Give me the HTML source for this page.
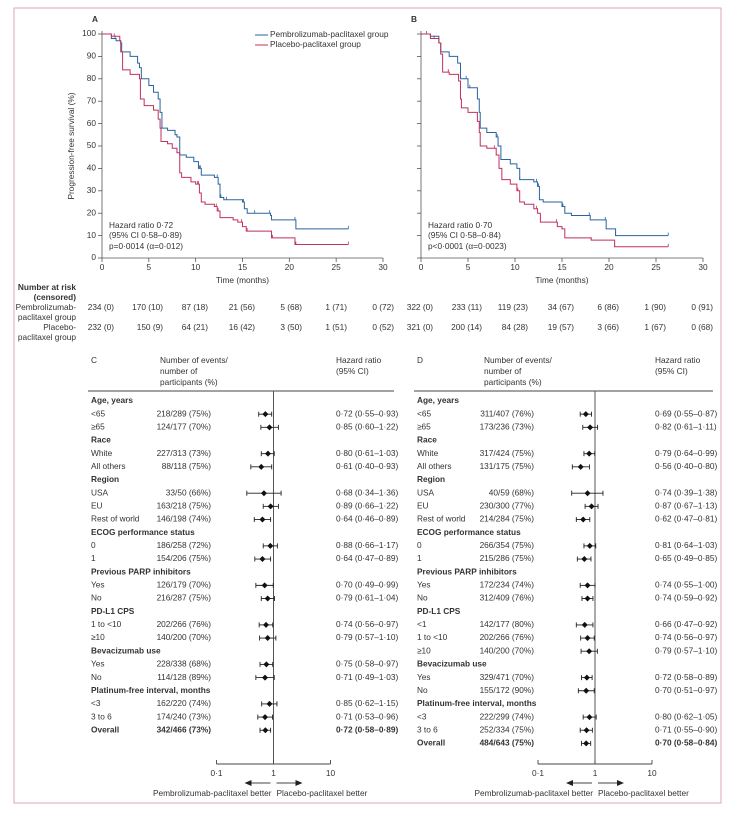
<!DOCTYPE html>
<html><head><meta charset="utf-8"><style>
html,body{margin:0;padding:0;background:#fff;}
svg{display:block;font-family:"Liberation Sans",sans-serif;}
text{fill:#333;font-size:8.3px;}
</style></head><body>
<svg id="fig" width="735" height="818" viewBox="0 0 735 818" xmlns="http://www.w3.org/2000/svg"></svg>
<script>
// ---------- KM data (months, survival %) ----------
const aPembroT=[0,1,1.5,2,2.1,3,3.8,4,4.2,5,5.5,6,6.2,6.4,7,7.8,8,8.3,9,9.8,10.3,10.6,12,12.4,12.6,13,15,15.2,15.5,18,18.1,20.7,26.3];
const aPembroS=[100,98,97,96,92,90,87,85,80,77,74,71,65,58,57,55,54,46,45,43,40,37,36,33,27,26,25,22,20,19,17,13,13];
const aPlaceboT=[0,1,1.9,2,2.2,3,4,4.1,4.5,5.5,6,6.2,6.3,7,7.5,8,8.3,8.5,9.5,10,10.4,10.6,11,12,12.3,12.6,14,14.5,15,15.4,18.1,20.6,26.3];
const aPlaceboS=[100,99,97,92,84,82,80,71,68,66,62,58,52,51,49,47,38,36,34,33,29,25,24,23,21,18,17,16,14,12,9,6,6];
const bPembroT=[0,1,1.9,2.1,3,3.9,4.2,5,6,6.2,6.3,7,8,8.2,8.5,9.5,10.2,10.5,12,12.4,12.6,13,15,15.3,16,18,19.7,20.7,26.3];
const bPembroS=[100,99,96,92,90,87,80,76,71,65,58,56,54,50,44,42,40,35,34,32,26,25,23,20,19,17,13,10,10];
const bPlaceboT=[0,1,1.9,2.1,2.3,3,4,4.2,4.3,5,6,6.2,6.3,7,8,8.3,8.6,9.5,10.2,10.5,11,12,12.4,12.7,14.5,15,15.3,18.1,20.6,26.3];
const bPlaceboS=[100,98,96,91,83,82,79,71,67,65,61,56,50,49,46,40,35,33,30,25,24,22,20,16,14,13,9,8,5,5];
const aPembroCens=[1.4,8,10.4,10.5,12.3,12.7,13.3,15.1,16.3,17.9,20.6,26.3];
const aPlaceboCens=[1.3,8,10.2,10.3,12.2,12.4,14.9,15.5,18.2,20.7,26.3];
const bPembroCens=[0.6,4.8,5.2,8.1,10.5,12.3,12.5,15,15.1,17.9,19.6,20.7,26.3];
const bPlaceboCens=[1.4,2.9,7.8,10.3,12.3,14.4,15,18.1,20.6,26.3];
const yTicks=[0,10,20,30,40,50,60,70,80,90,100];
const xTicks=[0,5,10,15,20,25,30];
// ---------- risk table ----------
const riskA1=["234 (0)","170 (10)","87 (18)","21 (56)","5 (68)","1 (71)","0 (72)"];
const riskA2=["232 (0)","150 (9)","64 (21)","16 (42)","3 (50)","1 (51)","0 (52)"];
const riskB1=["322 (0)","233 (11)","119 (23)","34 (67)","6 (86)","1 (90)","0 (91)"];
const riskB2=["321 (0)","200 (14)","84 (28)","19 (57)","3 (66)","1 (67)","0 (68)"];
// ---------- forest data ----------
const cLabels=["Age, years","<65","≥65","Race","White","All others","Region","USA","EU","Rest of world","ECOG performance status","0","1","Previous PARP inhibitors","Yes","No","PD-L1 CPS","1 to <10","≥10","Bevacizumab use","Yes","No","Platinum-free interval, months","<3","3 to 6","Overall"];
const cEvents=[null,"218/289 (75%)","124/177 (70%)",null,"227/313 (73%)","88/118 (75%)",null,"33/50 (66%)","163/218 (75%)","146/198 (74%)",null,"186/258 (72%)","154/206 (75%)",null,"126/179 (70%)","216/287 (75%)",null,"202/266 (76%)","140/200 (70%)",null,"228/338 (68%)","114/128 (89%)",null,"162/220 (74%)","174/240 (73%)","342/466 (73%)"];
const cHR=[null,0.72,0.85,null,0.80,0.61,null,0.68,0.89,0.64,null,0.88,0.64,null,0.70,0.79,null,0.74,0.79,null,0.75,0.71,null,0.85,0.71,0.72];
const cLo=[null,0.55,0.60,null,0.61,0.40,null,0.34,0.66,0.46,null,0.66,0.47,null,0.49,0.61,null,0.56,0.57,null,0.58,0.49,null,0.62,0.53,0.58];
const cHi=[null,0.93,1.22,null,1.03,0.93,null,1.36,1.22,0.89,null,1.17,0.89,null,0.99,1.04,null,0.97,1.10,null,0.97,1.03,null,1.15,0.96,0.89];
const dLabels=["Age, years","<65","≥65","Race","White","All others","Region","USA","EU","Rest of world","ECOG performance status","0","1","Previous PARP inhibitors","Yes","No","PD-L1 CPS","<1","1 to <10","≥10","Bevacizumab use","Yes","No","Platinum-free interval, months","<3","3 to 6","Overall"];
const dEvents=[null,"311/407 (76%)","173/236 (73%)",null,"317/424 (75%)","131/175 (75%)",null,"40/59 (68%)","230/300 (77%)","214/284 (75%)",null,"266/354 (75%)","215/286 (75%)",null,"172/234 (74%)","312/409 (76%)",null,"142/177 (80%)","202/266 (76%)","140/200 (70%)",null,"329/471 (70%)","155/172 (90%)",null,"222/299 (74%)","252/334 (75%)","484/643 (75%)"];
const dHR=[null,0.69,0.82,null,0.79,0.56,null,0.74,0.87,0.62,null,0.81,0.65,null,0.74,0.74,null,0.66,0.74,0.79,null,0.72,0.70,null,0.80,0.71,0.70];
const dLo=[null,0.55,0.61,null,0.64,0.40,null,0.39,0.67,0.47,null,0.64,0.49,null,0.55,0.59,null,0.47,0.56,0.57,null,0.58,0.51,null,0.62,0.55,0.58];
const dHi=[null,0.87,1.11,null,0.99,0.80,null,1.38,1.13,0.81,null,1.03,0.85,null,1.00,0.92,null,0.92,0.97,1.10,null,0.89,0.97,null,1.05,0.90,0.84];

const NS="http://www.w3.org/2000/svg";
const svg=document.getElementById('fig');
function mk(tag,attrs,name,parent){
  const el=document.createElementNS(NS,tag);
  for(const k in attrs) el.setAttribute(k,attrs[k]);
  
  
  (parent||svg).appendChild(el);
  return el;
}
function txt(x,y,s,name,opt){
  opt=opt||{};
  const a={x:x,y:y,'dominant-baseline':'middle'};
  if(opt.anchor) a['text-anchor']=opt.anchor;
  if(opt.bold) a['font-weight']='bold';
  if(opt.size) a['font-size']=opt.size;
  if(opt.transform) a['transform']=opt.transform;
  const t=mk('text',a,name);
  t.textContent=s;
  return t;
}
function line(x1,y1,x2,y2,name,col,w){
  return mk('line',{x1:x1,y1:y1,x2:x2,y2:y2,stroke:col||'#555','stroke-width':w||0.8},name);
}
// frame
mk('rect',{x:14,y:8,width:707,height:795,fill:'none',stroke:'#d9a7b9','stroke-width':1},'figure-frame');

const BLUE='#2b63a0', RED='#c2305c';
function kmPanel(letter,x0,x30,showY,hr,ci,p,series){
  const yT=34,yB=258;
  const sx=m=>x0+(x30-x0)*m/30;
  const sy=v=>yB-(yB-yT)*v/100;
  txt(x0-10,20,letter,'panel-'+letter.toLowerCase()+'-label',{bold:true,size:10});
  line(x0,yT-3,x0,yB,'y-axis-'+letter.toLowerCase());
  line(x0,yB,x30,yB,'x-axis-'+letter.toLowerCase());
  yTicks.forEach(v=>{
    line(x0-4,sy(v),x0,sy(v),'y-tick');
    if(showY) txt(x0-6,sy(v),String(v),'y-tick-label',{anchor:'end'});
  });
  xTicks.forEach(v=>{
    line(sx(v),yB,sx(v),yB+4,'x-tick');
    txt(sx(v),yB+10,String(v),'x-tick-label',{anchor:'middle'});
  });
  txt((x0+x30)/2,281,'Time (months)','x-axis-title',{anchor:'middle'});
  if(showY) txt(0,0,'Progression-free survival (%)','y-axis-title',{anchor:'middle',transform:'translate(72,146) rotate(-90)'});
  series.forEach(s=>{
    let d='M'+sx(s.t[0])+' '+sy(s.s[0]);
    for(let i=1;i<s.t.length;i++){ d+=' H'+sx(s.t[i])+' V'+sy(s.s[i]); }
    mk('path',{d:d,fill:'none',stroke:s.col,'stroke-width':1},s.name);
    const f=m=>{let v=s.s[0];for(let i=0;i<s.t.length;i++){if(s.t[i]<=m)v=s.s[i];}return v;};
    s.cens.forEach(m=>{
      const y=sy(f(m));
      line(sx(m),y-3,sx(m),y,s.name+'-censor-mark',s.col,0.8);
    });
  });
  txt(x0+7,226,'Hazard ratio '+hr,'hazard-ratio-text');
  txt(x0+7,236,ci,'confidence-interval-text');
  txt(x0+7,247,p,'p-value-text');
}
kmPanel('A',102,383,true,'0·72','(95% CI 0·58–0·89)','p=0·0014 (α=0·012)',[
 {t:aPembroT,s:aPembroS,col:BLUE,name:'pembrolizumab-curve-a',cens:aPembroCens},
 {t:aPlaceboT,s:aPlaceboS,col:RED,name:'placebo-curve-a',cens:aPlaceboCens}]);
kmPanel('B',421,703,false,'0·70','(95% CI 0·58–0·84)','p<0·0001 (α=0·0023)',[
 {t:bPembroT,s:bPembroS,col:BLUE,name:'pembrolizumab-curve-b',cens:bPembroCens},
 {t:bPlaceboT,s:bPlaceboS,col:RED,name:'placebo-curve-b',cens:bPlaceboCens}]);
// legend
line(255,35,268,35,'legend-swatch-pembrolizumab',BLUE,1);
txt(270,35,'Pembrolizumab-paclitaxel group','legend-entry-pembrolizumab');
line(255,45,268,45,'legend-swatch-placebo',RED,1);
txt(270,45,'Placebo-paclitaxel group','legend-entry-placebo');
// risk table
txt(76,288,'Number at risk','risk-table-title',{anchor:'end',bold:true});
txt(76,298,'(censored)','risk-table-subtitle',{anchor:'end',bold:true});
txt(76,308,'Pembrolizumab-','risk-row-label-pembrolizumab',{anchor:'end'});
txt(76,318,'paclitaxel group','risk-row-label-pembrolizumab-2',{anchor:'end'});
txt(76,328,'Placebo-','risk-row-label-placebo',{anchor:'end'});
txt(76,338,'paclitaxel group','risk-row-label-placebo-2',{anchor:'end'});
const rxA=[114,163,208,255,302,347,394], rxB=[433,482,528,574,619,666,713];
riskA1.forEach((s,i)=>txt(rxA[i],308,s,'risk-count-a-pembrolizumab',{anchor:'end'}));
riskA2.forEach((s,i)=>txt(rxA[i],328,s,'risk-count-a-placebo',{anchor:'end'}));
riskB1.forEach((s,i)=>txt(rxB[i],308,s,'risk-count-b-pembrolizumab',{anchor:'end'}));
riskB2.forEach((s,i)=>txt(rxB[i],328,s,'risk-count-b-placebo',{anchor:'end'}));
// forest plots
const fmt=v=>v.toFixed(2).replace('.','·');
function forest(letter,L,labels,events,hr,lo,hi,cfg){
  const {lx,ex,ax1,hx,rx,evx}=cfg;
  const dec=57;
  const sx=v=>ax1+dec*Math.log10(v);
  const rowY=i=>401+i*13.17;
  txt(lx,361,letter,'panel-'+letter.toLowerCase()+'-label',{size:10});
  txt(evx,361,'Number of events/','events-header');
  txt(evx,372,'number of','events-header-2');
  txt(evx,383,'participants (%)','events-header-3');
  txt(hx,361,'Hazard ratio','hazard-ratio-header');
  txt(hx,372,'(95% CI)','hazard-ratio-header-2');
  line(L,391,rx,391,'header-rule','#444',1);
  const lastY=rowY(labels.length-1);
  line(ax1,391,ax1,764,'reference-line-hr-1','#555',1);
  labels.forEach((lab,i)=>{
    const y=rowY(i);
    const isH=events[i]===null;
    const isO=i===labels.length-1;
    txt(lx,y,lab,isH?'subgroup-header':'subgroup-label',{bold:isH||isO});
    if(!isH){
      txt(ex,y,events[i],'events-value',{anchor:'end',bold:isO,size:isO?9:null});
      txt(hx,y,fmt(hr[i])+' ('+fmt(lo[i])+'–'+fmt(hi[i])+')','hazard-ratio-value',{bold:isO});
      line(sx(lo[i]),y,sx(hi[i]),y,'ci-line','#222',0.9);
      line(sx(lo[i]),y-2.5,sx(lo[i]),y+2.5,'ci-cap-low','#222',0.9);
      line(sx(hi[i]),y-2.5,sx(hi[i]),y+2.5,'ci-cap-high','#222',0.9);
      const c=sx(hr[i]);
      mk('path',{d:`M${c-3} ${y} L${c} ${y-3} L${c+3} ${y} L${c} ${y+3}Z`,fill:'#111'},'hr-marker');
    }
  });
  line(sx(0.1),764,sx(10),764,'hr-axis','#444',0.9);
  [0.1,1,10].forEach(v=>{
    line(sx(v),760,sx(v),764,'hr-axis-tick','#444',0.9);
    txt(sx(v),774,String(v).replace('.','·'),'hr-axis-label',{anchor:'middle'});
  });
  line(ax1-3,783,ax1-24,783,'arrow-left-shaft','#444',1);
  mk('path',{d:`M${ax1-29} 783 L${ax1-22} 780 L${ax1-22} 786Z`,fill:'#222'},'arrow-left-head');
  line(ax1+3,783,ax1+24,783,'arrow-right-shaft','#444',1);
  mk('path',{d:`M${ax1+29} 783 L${ax1+22} 780 L${ax1+22} 786Z`,fill:'#222'},'arrow-right-head');
  txt(ax1-2,794,'Pembrolizumab-paclitaxel better','favours-pembrolizumab',{anchor:'end'});
  txt(ax1+3,794,'Placebo-paclitaxel better','favours-placebo');
}
forest('C',88,cLabels,cEvents,cHR,cLo,cHi,{lx:91,ex:211,ax1:273.5,hx:336,rx:394,evx:160});
forest('D',414,dLabels,dEvents,dHR,dLo,dHi,{lx:417,ex:534,ax1:595,hx:655,rx:713,evx:484});
</script>
</body></html>
